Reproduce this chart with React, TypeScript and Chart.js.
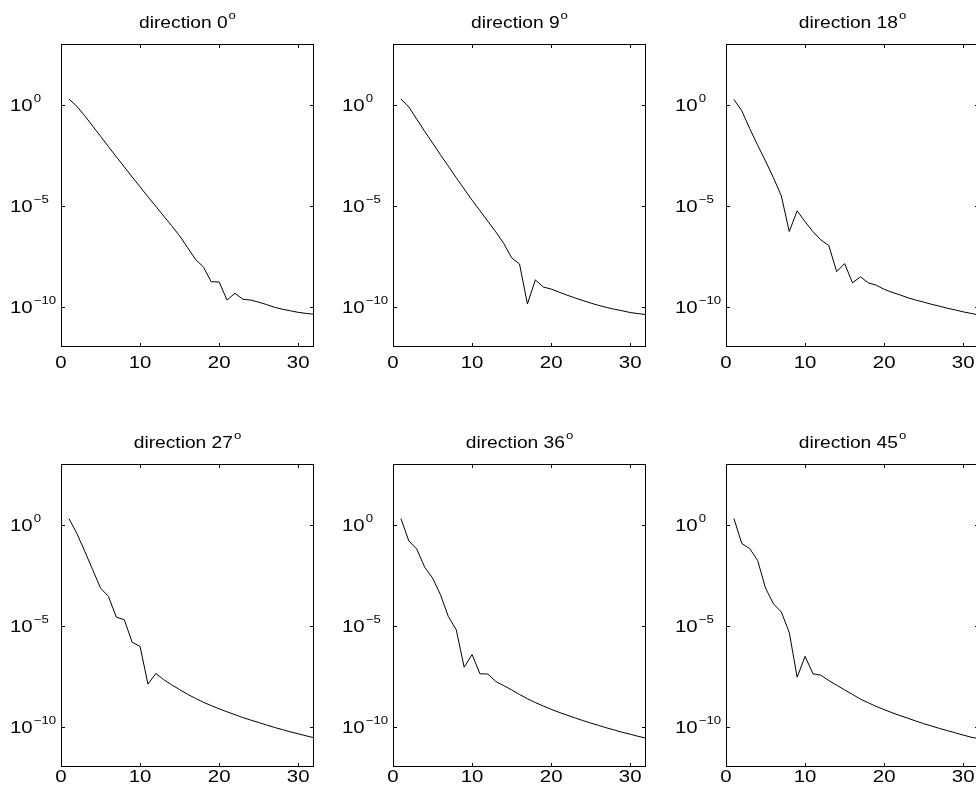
import React, { useEffect, useRef } from 'react';
import { Chart, registerables } from 'chart.js';

Chart.register(...registerables);

// ---------------- data ----------------
const iterations = [1, 2, 3, 4, 5, 6, 7, 8, 9, 10, 11, 12, 13, 14, 15, 16, 17, 18, 19, 20, 21, 22, 23, 24, 25, 26, 27, 28, 29, 30, 31, 32];

const directionAngles = ['0', '9', '18', '27', '36', '45'];

const residualDir0 = [1.9, 8.3e-1, 2.8e-1, 8.7e-2, 2.7e-2, 8.3e-3, 2.6e-3, 8.3e-4, 2.6e-4, 8.5e-5, 2.75e-5, 9.1e-6, 3.0e-6, 1.0e-6, 3.2e-7, 8.5e-8, 2.2e-8, 9.3e-9, 1.7e-9, 1.66e-9, 2.1e-10, 4.6e-10, 2.3e-10, 2.1e-10, 1.66e-10, 1.26e-10, 9.3e-11, 7.4e-11, 6.2e-11, 5.2e-11, 4.6e-11, 4.2e-11];
const residualDir9 = [1.9, 7.6e-1, 1.9e-1, 4.8e-2, 1.26e-2, 3.3e-3, 8.9e-4, 2.4e-4, 6.6e-5, 1.86e-5, 5.6e-6, 1.66e-6, 5.0e-7, 1.35e-7, 2.6e-8, 1.29e-8, 1.35e-10, 2.1e-9, 9.3e-10, 7.4e-10, 5.2e-10, 3.7e-10, 2.7e-10, 2.0e-10, 1.5e-10, 1.15e-10, 9.1e-11, 7.4e-11, 6.2e-11, 5.1e-11, 4.5e-11, 4.0e-11];
const residualDir18 = [1.8, 4.9e-1, 6.5e-2, 9.8e-3, 1.6e-3, 2.4e-4, 3.0e-5, 5.2e-7, 5.5e-6, 1.6e-6, 5.1e-7, 2.0e-7, 1.05e-7, 5.4e-9, 1.35e-8, 1.5e-9, 3.0e-9, 1.5e-9, 1.15e-9, 7.2e-10, 5.1e-10, 3.8e-10, 2.75e-10, 2.1e-10, 1.66e-10, 1.3e-10, 1.05e-10, 8.3e-11, 6.8e-11, 5.5e-11, 4.6e-11, 3.8e-11];
const residualDir27 = [2.0, 3.7e-1, 4.8e-2, 5.9e-3, 7.2e-4, 2.8e-4, 2.6e-5, 1.95e-5, 1.5e-6, 9.3e-7, 1.26e-8, 4.3e-8, 2.1e-8, 1.17e-8, 6.8e-9, 4.0e-9, 2.5e-9, 1.6e-9, 1.1e-9, 7.6e-10, 5.4e-10, 3.9e-10, 2.8e-10, 2.1e-10, 1.6e-10, 1.2e-10, 9.1e-11, 7.1e-11, 5.5e-11, 4.4e-11, 3.5e-11, 2.8e-11];
const residualDir36 = [2.0, 1.55e-1, 6.2e-2, 7.9e-3, 2.3e-3, 3.4e-4, 2.8e-5, 6.2e-6, 8.7e-8, 3.7e-7, 4.1e-8, 4.0e-8, 1.7e-8, 1.07e-8, 6.6e-9, 3.9e-9, 2.4e-9, 1.55e-9, 1.05e-9, 7.2e-10, 5.1e-10, 3.7e-10, 2.7e-10, 2.0e-10, 1.5e-10, 1.15e-10, 8.7e-11, 6.8e-11, 5.2e-11, 4.2e-11, 3.3e-11, 2.7e-11];
const residualDir45 = [2.0, 1.15e-1, 6.5e-2, 1.66e-2, 7.2e-4, 1.2e-4, 4.7e-5, 4.6e-6, 2.8e-8, 3.0e-7, 4.1e-8, 3.5e-8, 1.9e-8, 1.12e-8, 6.6e-9, 3.9e-9, 2.3e-9, 1.5e-9, 1.0e-9, 6.9e-10, 4.9e-10, 3.5e-10, 2.6e-10, 1.9e-10, 1.4e-10, 1.07e-10, 8.1e-11, 6.3e-11, 4.9e-11, 3.8e-11, 3.0e-11, 2.5e-11];

const xTickValues = [0, 10, 20, 30];
const xTickLabels = ['0', '10', '20', '30'];
const yTickValues = [1, 1e-5, 1e-10];
const yTickBase = '10';
const yTickExponents = ['0', '\u22125', '\u221210'];

const X_MIN = 0;
const X_MAX = 32;
const Y_MIN = 1e-12;
const Y_MAX = 1e3;

// ---------------- layout / style ----------------
const FONT = '"Liberation Sans", Arial, Helvetica, sans-serif';
const SX = 1.2; // horizontal text stretch
const TICK_SIZE = 17;
const SUP_SIZE = 11;
const TITLE_SIZE = 16;
const PAD = { left: 61, top: 44, right: 15, bottom: 34 };
const BOX_W = 253;
const BOX_H = 303;
const COL_LEFT = [61, 393, 726];
const ROW_TOP = [44, 464];
const X_LABEL_OFFSET = [21, 15];

const panels = [
  { angle: directionAngles[0], values: residualDir0, col: 0, row: 0 },
  { angle: directionAngles[1], values: residualDir9, col: 1, row: 0 },
  { angle: directionAngles[2], values: residualDir18, col: 2, row: 0 },
  { angle: directionAngles[3], values: residualDir27, col: 0, row: 1 },
  { angle: directionAngles[4], values: residualDir36, col: 1, row: 1 },
  { angle: directionAngles[5], values: residualDir45, col: 2, row: 1 },
];

function textWidth(ctx: CanvasRenderingContext2D, text: string, size: number) {
  ctx.font = `${size}px ${FONT}`;
  return ctx.measureText(text).width * SX;
}

function drawText(ctx: CanvasRenderingContext2D, text: string, x: number, y: number, size: number) {
  ctx.save();
  ctx.font = `${size}px ${FONT}`;
  ctx.textAlign = 'left';
  ctx.textBaseline = 'alphabetic';
  ctx.translate(x, y);
  ctx.scale(SX, 1);
  ctx.fillText(text, 0, 0);
  ctx.restore();
}

const matlabAxes = {
  id: 'matlabAxes',
  afterDatasetsDraw(chart: any, _args: any, opts: any) {
    const { ctx, chartArea: a, scales } = chart;
    const xs = scales.x;
    const ys = scales.y;
    ctx.save();
    ctx.strokeStyle = '#000';
    ctx.fillStyle = '#000';
    ctx.lineWidth = 1;
    ctx.strokeRect(a.left + 0.5, a.top + 0.5, a.right - a.left - 1, a.bottom - a.top - 1);
    ctx.beginPath();
    for (const v of xTickValues) {
      const px = Math.round(xs.getPixelForValue(v)) + 0.5;
      ctx.moveTo(px, a.top);
      ctx.lineTo(px, a.top + 4);
      ctx.moveTo(px, a.bottom);
      ctx.lineTo(px, a.bottom - 4);
    }
    for (const v of yTickValues) {
      const py = Math.round(ys.getPixelForValue(v)) + 0.5;
      ctx.moveTo(a.left, py);
      ctx.lineTo(a.left + 4, py);
      ctx.moveTo(a.right, py);
      ctx.lineTo(a.right - 4, py);
    }
    ctx.stroke();

    // x tick labels
    xTickValues.forEach((v, i) => {
      const px = xs.getPixelForValue(v);
      const w = textWidth(ctx, xTickLabels[i], TICK_SIZE);
      drawText(ctx, xTickLabels[i], px - w / 2, a.bottom + opts.xLabelOffset, TICK_SIZE);
    });

    // y tick labels 10^n
    yTickValues.forEach((v, i) => {
      const py = ys.getPixelForValue(v);
      const x0 = a.left - 51;
      const wb = textWidth(ctx, yTickBase, TICK_SIZE);
      drawText(ctx, yTickBase, x0, py + 6, TICK_SIZE);
      drawText(ctx, yTickExponents[i], x0 + wb + 1, py - 3, SUP_SIZE);
    });

    // title "direction N^o"
    const main = `direction ${opts.angle}`;
    const wm = textWidth(ctx, main, TITLE_SIZE);
    const ws = textWidth(ctx, 'o', SUP_SIZE);
    const cx = (a.left + a.right) / 2;
    const start = cx - (wm + 1 + ws) / 2;
    drawText(ctx, main, start, a.top - 16, TITLE_SIZE);
    drawText(ctx, 'o', start + wm + 1, a.top - 25, SUP_SIZE);
    ctx.restore();
  },
};

function Panel({ angle, values, col, row }: { angle: string; values: number[]; col: number; row: number }) {
  const ref = useRef<HTMLCanvasElement | null>(null);
  const W = PAD.left + BOX_W + PAD.right;
  const H = PAD.top + BOX_H + PAD.bottom;
  useEffect(() => {
    if (!ref.current) return;
    const chart = new Chart(ref.current, {
      type: 'line',
      data: {
        datasets: [
          {
            data: iterations.map((x, i) => ({ x, y: values[i] })),
            borderColor: '#000',
            borderWidth: 1,
            pointRadius: 0,
            fill: false,
            tension: 0,
          },
        ],
      },
      options: {
        animation: false,
        responsive: false,
        devicePixelRatio: 1,
        layout: { padding: PAD },
        plugins: {
          legend: { display: false },
          tooltip: { enabled: false },
          title: { display: false },
          matlabAxes: { angle, xLabelOffset: X_LABEL_OFFSET[row] },
        } as any,
        scales: {
          x: { type: 'linear', min: X_MIN, max: X_MAX, display: false },
          y: { type: 'logarithmic', min: Y_MIN, max: Y_MAX, display: false },
        },
      },
      plugins: [matlabAxes],
    });
    return () => chart.destroy();
  }, [angle, values, row]);
  return (
    <canvas
      ref={ref}
      width={W}
      height={H}
      style={{
        position: 'absolute',
        left: COL_LEFT[col] - PAD.left,
        top: ROW_TOP[row] - PAD.top,
        width: W,
        height: H,
      }}
    />
  );
}

export default function App() {
  return (
    <div
      style={{
        position: 'fixed',
        left: 0,
        top: 0,
        width: 976,
        height: 801,
        overflow: 'hidden',
        background: '#fff',
      }}
    >
      {panels.map((p) => (
        <Panel key={p.angle} {...p} />
      ))}
    </div>
  );
}
